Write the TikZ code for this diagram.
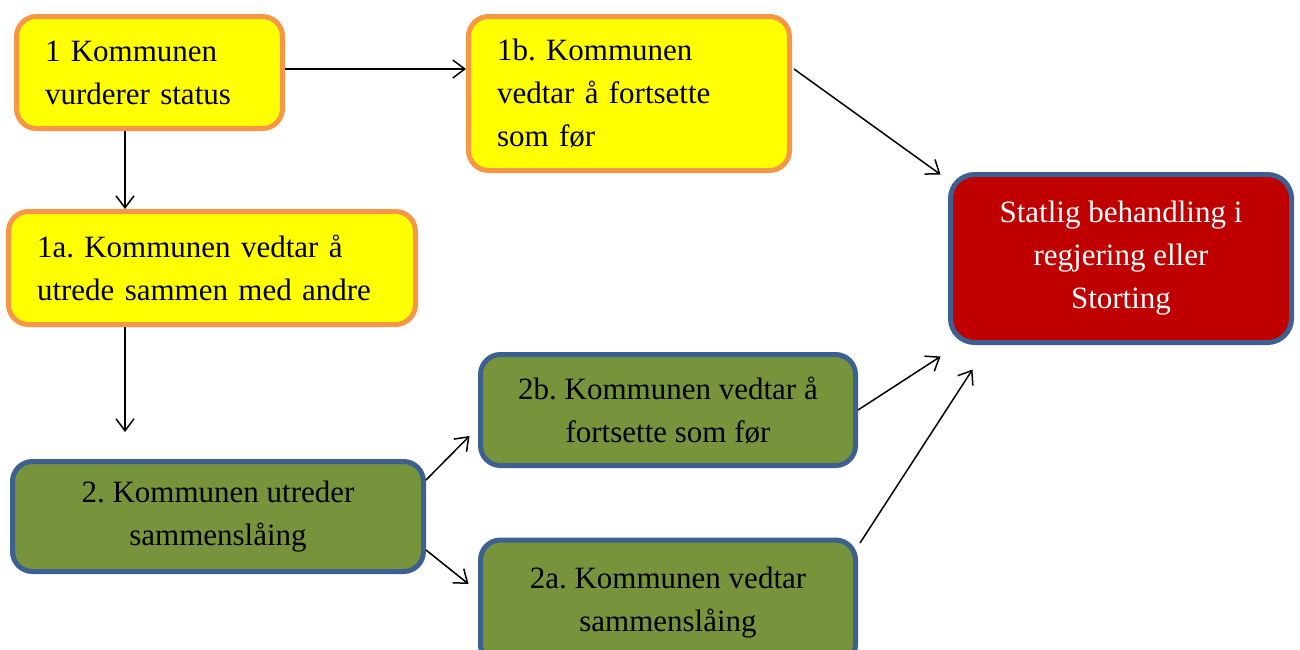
\documentclass[tikz,border=0pt]{standalone}
\usepackage{fontspec}
\setmainfont{Liberation Serif}
\usetikzlibrary{arrows.meta}
\definecolor{yel}{HTML}{FFFF00}
\definecolor{orb}{HTML}{F79646}
\definecolor{grn}{HTML}{77933C}
\definecolor{blb}{HTML}{3C6190}
\definecolor{redf}{HTML}{C00000}
\begin{document}
\frenchspacing
\begin{tikzpicture}[x=0.5pt,y=-0.5pt,
  boxbase/.style={line width=2.5pt, rounded corners=10pt, inner sep=0pt,
    font=\fontsize{15.5}{21.5}\selectfont\frenchspacing},
  ybox/.style={boxbase, draw=orb, fill=yel, align=left},
  gbox/.style={boxbase, draw=blb, fill=grn, align=center},
  rbox/.style={boxbase, draw=blb, fill=redf, text=white, align=center, rounded corners=12pt},
  arr/.style={-{Straight Barb[length=6pt,width=9pt]}, line width=0.75pt}]
\useasboundingbox (0,0) rectangle (1300,649);
\node[ybox, minimum width=133pt, minimum height=56pt, text width=104.5pt] (b1) at (149.5,72.5)
  {1 Kommunen\\vurderer status};
\node[ybox, minimum width=160.5pt, minimum height=77pt, text width=132pt] (b1b) at (629,93.5)
  {1b. Kommunen\\vedtar å fortsette\\som før};
\node[ybox, minimum width=203.5pt, minimum height=56.5pt, text width=175pt] (b1a) at (212,268)
  {1a. Kommunen vedtar å\\utrede sammen med andre};
\node[gbox, minimum width=205.5pt, minimum height=55pt] (b2) at (218,516.5)
  {2. Kommunen utreder\\sammenslåing};
\node[gbox, minimum width=187.5pt, minimum height=55.5pt] (b2b) at (668,410)
  {2b. Kommunen vedtar å\\fortsette som før};
\node[gbox, minimum width=187.5pt, minimum height=62.5pt] (b2a) at (668,602.5)
  {2a. Kommunen vedtar\\sammenslåing};
\node[rbox, minimum width=170.5pt, minimum height=84pt] (st) at (1121,258.5)
  {Statlig behandling i\\regjering eller\\Storting};
\coordinate (e1) at (125,432);
\draw[arr] ([yshift=1.75pt]b1.east) -- ([yshift=1.75pt]b1.east -| b1b.west);
\draw[arr] (b1.south -| e1) -- (b1a.north -| e1);
\draw[arr] (b1a.south -| e1) -- (e1);
\draw[arr] ([yshift=18.25pt]b2.east) -- ([xshift=-4.25pt,yshift=-13pt]b2b.west);
\draw[arr] ([yshift=-16.75pt]b2.east) -- ([xshift=-4.75pt,yshift=9.25pt]b2a.west);
\draw[arr] ([xshift=1pt,yshift=12.25pt]b1b.east) -- ([xshift=-3.75pt,yshift=-1.25pt]st.north west);
\draw[arr] (b2b.east) -- ([xshift=-3.75pt,yshift=-5.75pt]st.south west);
\draw[arr] ([xshift=1pt,yshift=-2.75pt]b2a.north east) -- ([xshift=12.25pt,yshift=-12.25pt]st.south west);
\end{tikzpicture}
\end{document}
